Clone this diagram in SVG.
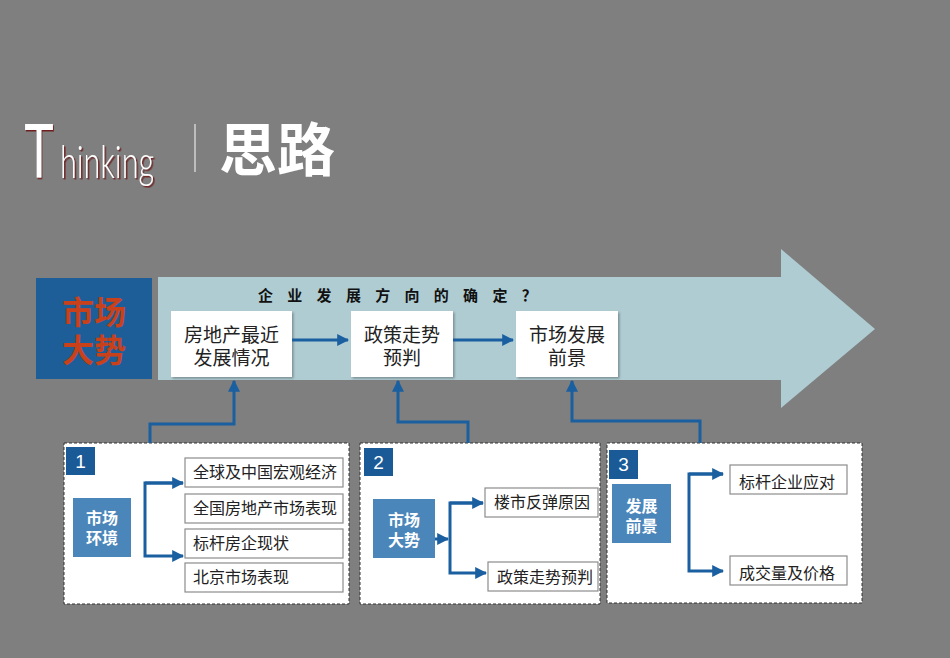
<svg xmlns="http://www.w3.org/2000/svg" width="950" height="658" viewBox="0 0 950 658">
<defs>
<marker id="ah" viewBox="0 0 10 10" refX="9" refY="5" markerWidth="4" markerHeight="4" orient="auto" markerUnits="strokeWidth">
<path d="M0,0 L10,5 L0,10 z" fill="#1A5FA0"/>
</marker>
<filter id="sh" x="-10%" y="-10%" width="130%" height="130%">
<feDropShadow dx="1.5" dy="1.5" stdDeviation="1" flood-color="#000" flood-opacity="0.3"/>
</filter>
<filter id="tsh" x="-10%" y="-10%" width="130%" height="130%">
<feDropShadow dx="1.5" dy="1.5" stdDeviation="0.3" flood-color="#6E1E1E" flood-opacity="1"/>
</filter>
</defs>
<style>
.cjk{font-family:"Liberation Sans","Noto Sans CJK SC",sans-serif}
.wbox{fill:#FFFFFF;filter:url(#sh)}
.btxt{font-size:19px;fill:#222;text-anchor:middle}
.item{fill:#FFFFFF;stroke:#8C8C8C;stroke-width:1.2}
.itxt{font-size:16px;fill:#222}
.dash{fill:#FFFFFF;stroke:#333;stroke-width:1;stroke-dasharray:3 2}
.num{fill:#1A5A96}
.ntxt{font-size:19px;fill:#FFFFFF;font-family:"Liberation Sans",sans-serif;text-anchor:middle}
.lbl{fill:#4B86BA}
.ltxt{font-size:16px;fill:#FFFFFF;font-weight:bold;text-anchor:middle}
.con{fill:none;stroke:#1A5FA0;stroke-width:3}
</style>
<rect x="0" y="0" width="950" height="658" fill="#7F7F7F"/>

<g id="title">
<text transform="translate(24,178) scale(0.63,1)" x="0" y="0" font-family="Liberation Sans, sans-serif" font-size="78" fill="#FFFFFF" filter="url(#tsh)">T</text>
<text x="60" y="178" font-family="Lato, 'Liberation Sans', sans-serif" font-weight="300" font-size="46" fill="#FFFFFF" textLength="94" lengthAdjust="spacingAndGlyphs" filter="url(#tsh)">hinking</text>
<line x1="195" y1="124" x2="195" y2="172" stroke="#E6E6E6" stroke-width="1.2"/>
<text x="219" y="171" class="cjk" font-size="58" font-weight="bold" fill="#FFFFFF">思路</text>
</g>

<g id="big-arrow">
<path d="M158,277 L781,277 L781,249 L875,329 L781,408 L781,380 L158,380 Z" fill="#AFCCD2"/>
<text class="cjk" y="301" font-size="15" font-weight="bold" fill="#111" x="258 272.6 287.3 301.9 316.6 331.2 345.9 360.5 375.2 389.8 404.5 419.1 433.8 448.4 463.1 477.7 492.4 507 521.7">企 业 发 展 方 向 的 确 定 ？</text>
</g>

<g id="market-trend">
<rect x="36" y="278" width="116" height="101" fill="#1D5E98"/>
<text class="cjk" x="94" y="324" font-size="32" font-weight="bold" fill="#C8411B" text-anchor="middle">市场</text>
<text class="cjk" x="94" y="362" font-size="32" font-weight="bold" fill="#C8411B" text-anchor="middle">大势</text>
</g>

<g id="box-recent">
<rect class="wbox" x="171" y="311" width="121" height="66"/>
<text class="cjk btxt" x="231.5" y="342">房地产最近</text>
<text class="cjk btxt" x="231.5" y="365">发展情况</text>
</g>
<g id="box-policy">
<rect class="wbox" x="351" y="311" width="102" height="66"/>
<text class="cjk btxt" x="402" y="342">政策走势</text>
<text class="cjk btxt" x="402" y="365">预判</text>
</g>
<g id="box-outlook">
<rect class="wbox" x="516" y="311" width="102" height="66"/>
<text class="cjk btxt" x="567" y="342">市场发展</text>
<text class="cjk btxt" x="567" y="365">前景</text>
</g>

<g id="panel-1">
<rect class="dash" x="64" y="443" width="285" height="161"/>
<rect class="num" x="66" y="447" width="29" height="28"/>
<text class="ntxt" x="80.5" y="468">1</text>
<rect class="lbl" x="73" y="498" width="58" height="59"/>
<text class="cjk ltxt" x="102" y="524">市场</text>
<text class="cjk ltxt" x="102" y="544">环境</text>
<rect class="item" x="185" y="458" width="158" height="29"/>
<text class="cjk itxt" x="193" y="478">全球及中国宏观经济</text>
<rect class="item" x="185" y="494" width="158" height="29"/>
<text class="cjk itxt" x="193" y="514">全国房地产市场表现</text>
<rect class="item" x="185" y="529" width="158" height="29"/>
<text class="cjk itxt" x="193" y="549">标杆房企现状</text>
<rect class="item" x="185" y="563" width="158" height="29"/>
<text class="cjk itxt" x="193" y="583">北京市场表现</text>
</g>

<g id="panel-2">
<rect class="dash" x="360" y="443" width="240" height="161"/>
<rect class="num" x="364" y="448" width="29" height="28"/>
<text class="ntxt" x="378.5" y="469">2</text>
<rect class="lbl" x="373" y="499" width="62" height="59"/>
<text class="cjk ltxt" x="404" y="526">市场</text>
<text class="cjk ltxt" x="404" y="546">大势</text>
<rect class="item" x="485" y="488" width="113" height="29"/>
<text class="cjk itxt" x="494" y="508">楼市反弹原因</text>
<rect class="item" x="488" y="562" width="110" height="29"/>
<text class="cjk itxt" x="497" y="583">政策走势预判</text>
</g>

<g id="panel-3">
<rect class="dash" x="607" y="443" width="255" height="160"/>
<rect class="num" x="609" y="450" width="29" height="29"/>
<text class="ntxt" x="623.5" y="471">3</text>
<rect class="lbl" x="612" y="484" width="59" height="59"/>
<text class="cjk ltxt" x="641.5" y="512">发展</text>
<text class="cjk ltxt" x="641.5" y="532">前景</text>
<rect class="item" x="730" y="465" width="117" height="29"/>
<text class="cjk itxt" x="739" y="488">标杆企业应对</text>
<rect class="item" x="730" y="556" width="117" height="29"/>
<text class="cjk itxt" x="739" y="579">成交量及价格</text>
</g>

<g id="connectors">
<path class="con" d="M292,340 L348,340" marker-end="url(#ah)"/>
<path class="con" d="M453,340 L513,340" marker-end="url(#ah)"/>
<path class="con" d="M150,443 L150,424 L234,424 L234,381" marker-end="url(#ah)"/>
<path class="con" d="M468,443 L468,422 L398,422 L398,381" marker-end="url(#ah)"/>
<path class="con" d="M700,443 L700,421 L572,421 L572,381" marker-end="url(#ah)"/>
<path class="con" d="M183,483 L145,483 L145,556 L183,556" marker-end="url(#ah)"/>
<path class="con" d="M145,483 L183,483" marker-end="url(#ah)"/>
<path class="con" d="M435,539 L448,539" marker-end="url(#ah)"/>
<path class="con" d="M483,503 L450,503 L450,573 L486,573" marker-end="url(#ah)"/>
<path class="con" d="M450,503 L483,503" marker-end="url(#ah)"/>
<path class="con" d="M723,474 L689,474 L689,571 L723,571" marker-end="url(#ah)"/>
<path class="con" d="M689,474 L723,474" marker-end="url(#ah)"/>
</g>
</svg>
